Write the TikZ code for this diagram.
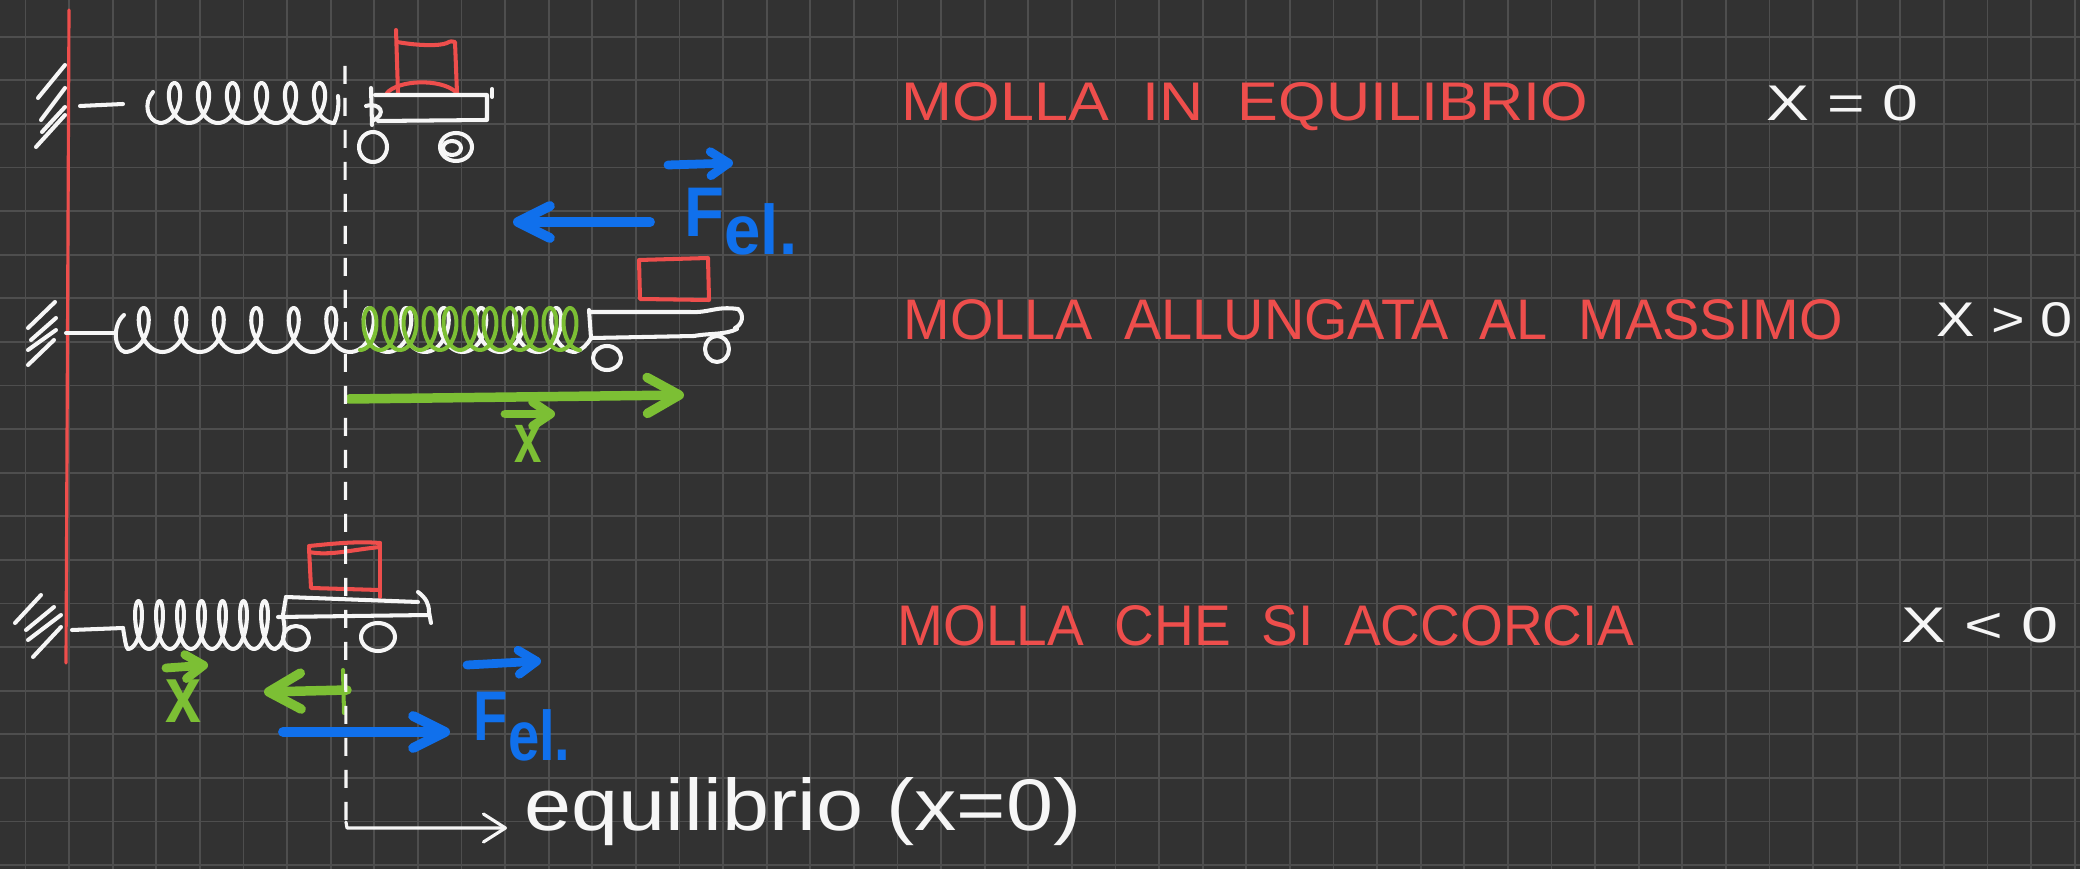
\documentclass[tikz,border=0pt]{standalone}
\usepackage{fontspec}
\usepackage{graphicx}
\setmainfont{Liberation Sans}
\usetikzlibrary{arrows.meta}

\definecolor{board}{HTML}{323232}
\definecolor{gridline}{HTML}{4E4E4E}
\definecolor{chalk}{HTML}{F6F6F6}
\definecolor{penred}{HTML}{EE4E4C}
\definecolor{penblue}{HTML}{1070EC}
\definecolor{pengreen}{HTML}{7CBF34}

\tikzset{
  stroke/.style={line width=1.15pt, line cap=round, line join=round},
  whiteink/.style={stroke, draw=chalk},
  redink/.style={stroke, draw=penred},
  greenink/.style={stroke, draw=pengreen},
  label/.style={inner sep=0pt, anchor=base west},
  redlabel/.style={label, text=penred},
  whitelabel/.style={label, text=chalk},
  bluearrow/.style={draw=penblue, line width=2.8pt, line cap=round,
    -{Straight Barb[round, length=3.2mm, width=3.2mm]}},
  greenarrow/.style={draw=pengreen, line width=2.7pt, line cap=round,
    -{Straight Barb[round, length=3.2mm, width=3.6mm]}},
  vecarrow/.style={line width=2.5pt, line cap=round,
    -{Straight Barb[round, length=1.8mm, width=2.4mm]}},
  bigletter/.style={label, font=\fontsize{20pt}{24pt}\selectfont\bfseries},
}

\begin{document}
\begin{tikzpicture}[x=0.1mm, y=-0.1mm]
\useasboundingbox (0,0) rectangle (2080,869);
\fill[board] (0,0) rectangle (2080,869);

% squared paper
\foreach \k in {0,...,47}
  \draw[gridline, line width=0.5pt] ({25.5+43.6*\k},0) -- ({25.5+43.6*\k},869);
\foreach \k in {0,...,19}
  \draw[gridline, line width=0.5pt] (0,{36.7+43.6*\k}) -- (2080,{36.7+43.6*\k});

% the wall
\coordinate (wallT) at (69,10);
\coordinate (wallB) at (66,663);
\draw[draw=penred, line width=0.9pt, line cap=round] (wallT) -- (wallB);

% hatching behind the wall
\foreach \a/\b/\c/\d in {38/98/65/65, 41/120/65/88, 42/132/65/107, 36/147/65/115,
                         28/328/55/302, 31/340/56/318, 28/350/56/330, 28/365/54/340,
                         15/623/41/595, 26/630/54/607, 28/640/61/615, 33/657/61/627}
  \draw[whiteink] (\a,\b) -- (\c,\d);

% attachment stubs
\draw[whiteink] (80,106) -- (123,104);
\draw[whiteink] (66,333) -- (115,333);
\draw[whiteink] (72,630) -- (123,628);

% ---------- spring at rest ----------
\draw[whiteink] (153,92) .. controls (143,103) and (147,121) .. (160,123);
\draw[whiteink] plot[domain=-180:1980, samples=220, variable=\t]
  ({160 + (\t+180)/360*29 - 12*sin(\t)}, {103 - 20*cos(\t)});
\draw[whiteink] (334,123) .. controls (338,115) and (339,105) .. (338,96);

% cart at rest
\draw[redink] (396,30) -- (398,93);
\draw[redink] (397,42) .. controls (420,46) and (440,46) .. (447,43)
              .. controls (450,41) and (453,41) .. (455,42) -- (457,93);
\draw[redink] (387,93) .. controls (398,80) and (440,78) .. (456,92);
\draw[whiteink] (375,95) -- (487,95) -- (487,120) -- (378,121);
\draw[whiteink] (492,89) -- (492,97);
\draw[whiteink] (371,88) -- (372,125);
\draw[whiteink] (366,106) .. controls (380,102) and (388,114) .. (372,121);
\draw[whiteink] (373,147) ellipse [x radius=14, y radius=15];
\draw[whiteink] (456,147) ellipse [x radius=16, y radius=14];
\draw[whiteink] (452,148) ellipse [x radius=9, y radius=7];

% elastic force, stretched case
\coordinate (f1a) at (650,222);
\coordinate (f1b) at (513,222);
\draw[bluearrow] (f1a) -- (f1b);
\coordinate (v1a) at (668,165);
\coordinate (v1b) at (733,163);
\draw[vecarrow, draw=penblue] (v1a) -- (v1b);
\node[bigletter, text=penblue] (fel1) at (684,237) {\scalebox{0.93}[1]{F\raisebox{-1.8mm}{el.}}};

% ---------- stretched spring ----------
\draw[whiteink] (124,315) .. controls (112,325) and (114,350) .. (125,352);
\draw[whiteink] plot[domain=-180:4140, samples=480, variable=\t]
  ({125 + (\t+180)/360*37.5 - 13*sin(\t)}, {330 - 22*cos(\t)});
\draw[whiteink] (575,352) .. controls (582,350) and (587,345) .. (591,338);
\draw[greenink] plot[domain=-180:3780, samples=440, variable=\t]
  ({360 + (\t+180)/360*20 - 11*sin(\t)}, {329 - 21*cos(\t)});

% cart, stretched
\draw[redink] (639,260) -- (708,258) -- (709,300) -- (640,299) -- cycle;
\draw[whiteink] (589,310) -- (591,338);
\draw[whiteink] (589,312) -- (690,312) .. controls (710,313) and (715,306) .. (738,309);
\draw[whiteink] (592,338) -- (694,336) .. controls (710,333) and (725,335) .. (737,329);
\draw[whiteink] (738,309) .. controls (745,315) and (742,325) .. (735,328);
\draw[whiteink] (607,358) ellipse [x radius=14, y radius=12];
\draw[whiteink] (717,349) ellipse [x radius=12, y radius=13];

% displacement, stretched
\coordinate (x2a) at (349,399);
\coordinate (x2b) at (684,395);
\draw[greenarrow] (x2a) -- (x2b);
\coordinate (u2a) at (505,414);
\coordinate (u2b) at (555,414);
\draw[vecarrow, draw=pengreen] (u2a) -- (u2b);
\node[bigletter, text=pengreen] (xv2) at (514,463) {\scalebox{0.7}[1]{x}};

% ---------- compressed spring ----------
\draw[whiteink] (123,628) .. controls (125,640) and (126,648) .. (128,649);
\draw[whiteink] plot[domain=-180:2340, samples=260, variable=\t]
  ({128 + (\t+180)/360*21 - 8*sin(\t)}, {625 - 24*cos(\t)});
\draw[whiteink] (275,649) .. controls (285,645) and (286,630) .. (283,617);

% cart, compressed
\draw[redink] (309,546) .. controls (330,544) and (355,541) .. (380,543);
\draw[redink] (309,552) .. controls (330,556) and (350,550) .. (380,547);
\draw[redink] (309,548) -- (311,588) -- (379,590);
\draw[redink] (380,543) -- (380,597);
\draw[whiteink] (286,597) -- (418,602);
\draw[whiteink] (278,617) -- (429,615);
\draw[whiteink] (286,597) -- (283,615);
\draw[whiteink] (418,592) .. controls (426,598) and (429,604) .. (429,612) -- (431,623);
\draw[whiteink] (296,638) ellipse [x radius=13, y radius=12];
\draw[whiteink] (378,637) ellipse [x radius=17, y radius=14];

% displacement, compressed
\coordinate (x3a) at (347,690);
\coordinate (x3b) at (264,692);
\draw[greenarrow] (x3a) -- (x3b);
\coordinate (bar3a) at (343,670);
\coordinate (bar3b) at (344,713);
\draw[greenink] (bar3a) -- (bar3b);
\coordinate (u3a) at (166,668);
\coordinate (u3b) at (208,665);
\draw[vecarrow, draw=pengreen] (u3a) -- (u3b);
\node[label, text=pengreen, font=\fontsize{23pt}{27pt}\selectfont\bfseries] (xv3) at (165,722) {\scalebox{0.8}[1]{x}};

% elastic force, compressed
\coordinate (f3a) at (283,732);
\coordinate (f3b) at (450,732);
\draw[bluearrow] (f3a) -- (f3b);
\coordinate (v3a) at (467,665);
\coordinate (v3b) at (541,661);
\draw[vecarrow, draw=penblue] (v3a) -- (v3b);
\node[bigletter, text=penblue] (fel3) at (473,740) {\scalebox{0.8}[1]{F\raisebox{-2mm}{el.}}};

% equilibrium line
\coordinate (eqT) at (345,66);
\coordinate (eqB) at (346,822);
\coordinate (eqC) at (347,828);
\coordinate (eqE) at (507,828);
\draw[draw=chalk, line width=0.9pt, dash pattern=on 1.8mm off 1.4mm] (eqT) -- (eqB);
\draw[draw=chalk, line width=0.9pt, line cap=round, line join=round,
      -{Straight Barb[round, length=2.2mm, width=2.8mm]}] (eqB) -- (eqC) -- (eqE);
\node[whitelabel] (eqtext) at (524,830) {\resizebox{55.7mm}{5.3mm}{equilibrio (x=0)}};

% captions
\node[redlabel] (cap1) at (901,121) {\resizebox{68.6mm}{3.8mm}{MOLLA\ \ IN\ \ EQUILIBRIO}};
\node[whitelabel] (val1) at (1766,121) {\resizebox{15.2mm}{3.5mm}{X = 0}};
\node[redlabel] (cap2) at (903,340) {\resizebox{93.9mm}{4.0mm}{MOLLA\ \ ALLUNGATA\ \ AL\ \ MASSIMO}};
\node[whitelabel] (val2) at (1936,337) {\resizebox{13.6mm}{3.4mm}{X > 0}};
\node[redlabel] (cap3) at (897,645) {\resizebox{73.7mm}{4.0mm}{MOLLA\ \ CHE\ \ SI\ \ ACCORCIA}};
\node[whitelabel] (val3) at (1901,642) {\resizebox{15.7mm}{3.5mm}{X < 0}};
\end{tikzpicture}
\end{document}
